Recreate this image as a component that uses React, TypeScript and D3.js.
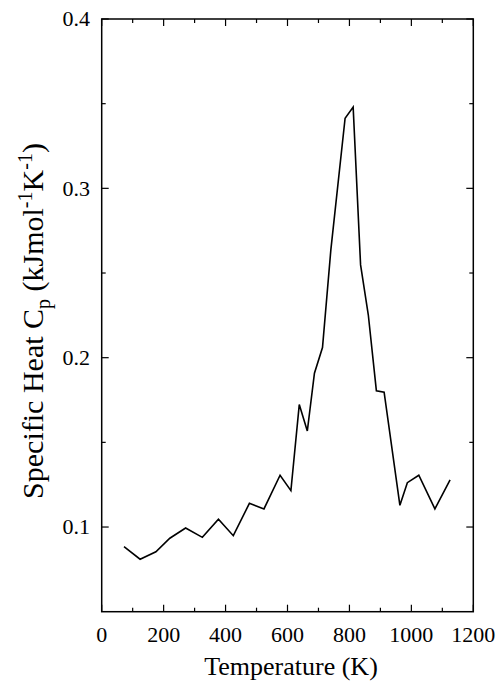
import React from "react";
import * as d3 from "d3";

// temperature (K) and specific heat (kJ/mol/K)
const temps = [72, 124, 175, 220, 271, 325, 377, 425, 477, 524, 576, 611, 638, 664, 687, 713, 740, 786, 812, 836, 861, 887, 912, 963, 987, 1024, 1076, 1125];
const heat = [0.0884, 0.081, 0.0854, 0.0934, 0.0994, 0.0939, 0.1046, 0.0949, 0.114, 0.1107, 0.1306, 0.1215, 0.1723, 0.1567, 0.1908, 0.206, 0.2637, 0.3414, 0.348, 0.2548, 0.2252, 0.1805, 0.1796, 0.1128, 0.1262, 0.1306, 0.1107, 0.1278];

const xTicks = [0, 200, 400, 600, 800, 1000, 1200];
const xMinor = [100, 300, 500, 700, 900, 1100];
const yTicks = [0.1, 0.2, 0.3, 0.4];
const yMinor = [0.15, 0.25, 0.35];

const W = 502;
const H = 681;
const left = 101.7, right = 473.3, top = 19, bottom = 611.7;
const serif = "Liberation Serif";

const App = () => {
    const x = d3.scaleLinear().domain([0, 1200]).range([left, right]);
    const y = d3.scaleLinear().domain([0.05, 0.4]).range([bottom, top]);

    const line = d3.line<number>()
        .x((d, i) => x(temps[i]))
        .y(d => y(d));

    const major = 7;
    const minor = 4;

    return (
        <svg width={W} height={H} style={{position: "absolute", left: 0, top: 0, background: "#fff"}}>
            <rect x={left} y={top} width={right - left} height={bottom - top} fill="none" stroke="#000" strokeWidth={1.5}/>

            {/* x ticks on bottom and top */}
            {xTicks.map(t => (
                <g key={"x" + t}>
                    <line x1={x(t)} x2={x(t)} y1={bottom} y2={bottom - major} stroke="#000" strokeWidth={1.2}/>
                    <line x1={x(t)} x2={x(t)} y1={top} y2={top + major} stroke="#000" strokeWidth={1.2}/>
                    <text x={x(t)} y={641.5} textAnchor="middle" fontFamily={serif} fontSize={22}>{t}</text>
                </g>
            ))}
            {xMinor.map(t => (
                <g key={"xm" + t}>
                    <line x1={x(t)} x2={x(t)} y1={bottom} y2={bottom - minor} stroke="#000" strokeWidth={1.2}/>
                    <line x1={x(t)} x2={x(t)} y1={top} y2={top + minor} stroke="#000" strokeWidth={1.2}/>
                </g>
            ))}

            {/* y ticks on left and right */}
            {yTicks.map(t => (
                <g key={"y" + t}>
                    <line x1={left} x2={left + major} y1={y(t)} y2={y(t)} stroke="#000" strokeWidth={1.2}/>
                    <line x1={right} x2={right - major} y1={y(t)} y2={y(t)} stroke="#000" strokeWidth={1.2}/>
                    <text x={90} y={y(t)} dy="0.33em" textAnchor="end" fontFamily={serif} fontSize={22}>{t.toFixed(1)}</text>
                </g>
            ))}
            {yMinor.map(t => (
                <g key={"ym" + t}>
                    <line x1={left} x2={left + minor} y1={y(t)} y2={y(t)} stroke="#000" strokeWidth={1.2}/>
                    <line x1={right} x2={right - minor} y1={y(t)} y2={y(t)} stroke="#000" strokeWidth={1.2}/>
                </g>
            ))}

            <path d={line(heat) || ""} fill="none" stroke="#000" strokeWidth={1.6} strokeLinejoin="miter"/>

            <text x={291} y={675} textAnchor="middle" fontFamily={serif} fontSize={26}>Temperature (K)</text>

            <text transform={`translate(43,321) rotate(-90)`} textAnchor="middle" fontFamily={serif} fontSize={30}>
                Specific Heat C<tspan fontSize={20} dy={7}>p</tspan>
                <tspan dy={-7}> (kJmol</tspan>
                <tspan fontSize={20} dy={-11}>-1</tspan>
                <tspan dy={11}>K</tspan>
                <tspan fontSize={20} dy={-11}>-1</tspan>
                <tspan dy={11}>)</tspan>
            </text>
        </svg>
    );
};

export default App;
